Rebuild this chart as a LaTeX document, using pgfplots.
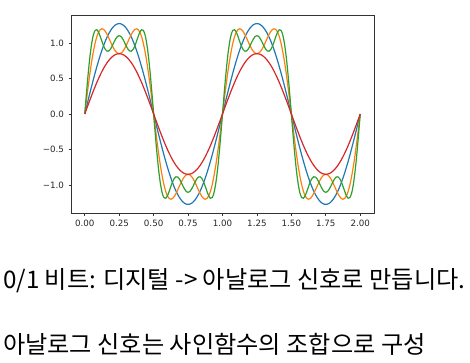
\documentclass[border=0pt]{standalone}
\usepackage{pgfplots}
\usepackage{pgfplotstable}
\pgfplotsset{compat=1.18}
\usepackage{fontspec}
\setmainfont{DejaVu Sans}
\newfontfamily\cjk{Noto Sans CJK KR}
\definecolor{mplblue}{HTML}{1F77B4}
\definecolor{mplorange}{HTML}{FF7F0E}
\definecolor{mplgreen}{HTML}{2CA02C}
\definecolor{mplred}{HTML}{D62728}
\pgfplotstableread{
x B O G R
0 0 0 0 0
0.0125 0.100 0.199 0.296 0.067
0.025 0.199 0.392 0.572 0.133
0.0375 0.297 0.573 0.808 0.198
0.05 0.393 0.737 0.991 0.262
0.0625 0.487 0.879 1.115 0.325
0.075 0.578 0.997 1.177 0.385
0.0875 0.665 1.088 1.186 0.444
0.1 0.748 1.152 1.152 0.499
0.1125 0.827 1.189 1.091 0.551
0.125 0.900 1.200 1.020 0.600
0.1375 0.968 1.190 0.955 0.646
0.15 1.030 1.161 0.907 0.687
0.1625 1.086 1.119 0.884 0.724
0.175 1.134 1.068 0.888 0.756
0.1875 1.176 1.014 0.916 0.784
0.2 1.211 0.961 0.961 0.807
0.2125 1.238 0.915 1.013 0.826
0.225 1.258 0.879 1.059 0.839
0.2375 1.269 0.857 1.092 0.846
0.25 1.273 0.849 1.103 0.849
0.2625 1.269 0.857 1.092 0.846
0.275 1.258 0.879 1.059 0.839
0.2875 1.238 0.915 1.013 0.826
0.3 1.211 0.961 0.961 0.807
0.3125 1.176 1.014 0.916 0.784
0.325 1.134 1.068 0.888 0.756
0.3375 1.086 1.119 0.884 0.724
0.35 1.030 1.161 0.907 0.687
0.3625 0.968 1.190 0.955 0.646
0.375 0.900 1.200 1.020 0.600
0.3875 0.827 1.189 1.091 0.551
0.4 0.748 1.152 1.152 0.499
0.4125 0.665 1.088 1.186 0.444
0.425 0.578 0.997 1.177 0.385
0.4375 0.487 0.879 1.115 0.325
0.45 0.393 0.737 0.991 0.262
0.4625 0.297 0.573 0.808 0.198
0.475 0.199 0.392 0.572 0.133
0.4875 0.100 0.199 0.296 0.067
0.5 0 0 0 0
0.5125 -0.100 -0.199 -0.296 -0.067
0.525 -0.199 -0.392 -0.572 -0.133
0.5375 -0.297 -0.573 -0.808 -0.198
0.55 -0.393 -0.737 -0.991 -0.262
0.5625 -0.487 -0.879 -1.115 -0.325
0.575 -0.578 -0.997 -1.177 -0.385
0.5875 -0.665 -1.088 -1.186 -0.444
0.6 -0.748 -1.152 -1.152 -0.499
0.6125 -0.827 -1.189 -1.091 -0.551
0.625 -0.900 -1.200 -1.020 -0.600
0.6375 -0.968 -1.190 -0.955 -0.646
0.65 -1.030 -1.161 -0.907 -0.687
0.6625 -1.086 -1.119 -0.884 -0.724
0.675 -1.134 -1.068 -0.888 -0.756
0.6875 -1.176 -1.014 -0.916 -0.784
0.7 -1.211 -0.961 -0.961 -0.807
0.7125 -1.238 -0.915 -1.013 -0.826
0.725 -1.258 -0.879 -1.059 -0.839
0.7375 -1.269 -0.857 -1.092 -0.846
0.75 -1.273 -0.849 -1.103 -0.849
0.7625 -1.269 -0.857 -1.092 -0.846
0.775 -1.258 -0.879 -1.059 -0.839
0.7875 -1.238 -0.915 -1.013 -0.826
0.8 -1.211 -0.961 -0.961 -0.807
0.8125 -1.176 -1.014 -0.916 -0.784
0.825 -1.134 -1.068 -0.888 -0.756
0.8375 -1.086 -1.119 -0.884 -0.724
0.85 -1.030 -1.161 -0.907 -0.687
0.8625 -0.968 -1.190 -0.955 -0.646
0.875 -0.900 -1.200 -1.020 -0.600
0.8875 -0.827 -1.189 -1.091 -0.551
0.9 -0.748 -1.152 -1.152 -0.499
0.9125 -0.665 -1.088 -1.186 -0.444
0.925 -0.578 -0.997 -1.177 -0.385
0.9375 -0.487 -0.879 -1.115 -0.325
0.95 -0.393 -0.737 -0.991 -0.262
0.9625 -0.297 -0.573 -0.808 -0.198
0.975 -0.199 -0.392 -0.572 -0.133
0.9875 -0.100 -0.199 -0.296 -0.067
1.0 0 0 0 0
1.0125 0.100 0.199 0.296 0.067
1.025 0.199 0.392 0.572 0.133
1.0375 0.297 0.573 0.808 0.198
1.05 0.393 0.737 0.991 0.262
1.0625 0.487 0.879 1.115 0.325
1.075 0.578 0.997 1.177 0.385
1.0875 0.665 1.088 1.186 0.444
1.1 0.748 1.152 1.152 0.499
1.1125 0.827 1.189 1.091 0.551
1.125 0.900 1.200 1.020 0.600
1.1375 0.968 1.190 0.955 0.646
1.15 1.030 1.161 0.907 0.687
1.1625 1.086 1.119 0.884 0.724
1.175 1.134 1.068 0.888 0.756
1.1875 1.176 1.014 0.916 0.784
1.2 1.211 0.961 0.961 0.807
1.2125 1.238 0.915 1.013 0.826
1.225 1.258 0.879 1.059 0.839
1.2375 1.269 0.857 1.092 0.846
1.25 1.273 0.849 1.103 0.849
1.2625 1.269 0.857 1.092 0.846
1.275 1.258 0.879 1.059 0.839
1.2875 1.238 0.915 1.013 0.826
1.3 1.211 0.961 0.961 0.807
1.3125 1.176 1.014 0.916 0.784
1.325 1.134 1.068 0.888 0.756
1.3375 1.086 1.119 0.884 0.724
1.35 1.030 1.161 0.907 0.687
1.3625 0.968 1.190 0.955 0.646
1.375 0.900 1.200 1.020 0.600
1.3875 0.827 1.189 1.091 0.551
1.4 0.748 1.152 1.152 0.499
1.4125 0.665 1.088 1.186 0.444
1.425 0.578 0.997 1.177 0.385
1.4375 0.487 0.879 1.115 0.325
1.45 0.393 0.737 0.991 0.262
1.4625 0.297 0.573 0.808 0.198
1.475 0.199 0.392 0.572 0.133
1.4875 0.100 0.199 0.296 0.067
1.5 0 0 0 0
1.5125 -0.100 -0.199 -0.296 -0.067
1.525 -0.199 -0.392 -0.572 -0.133
1.5375 -0.297 -0.573 -0.808 -0.198
1.55 -0.393 -0.737 -0.991 -0.262
1.5625 -0.487 -0.879 -1.115 -0.325
1.575 -0.578 -0.997 -1.177 -0.385
1.5875 -0.665 -1.088 -1.186 -0.444
1.6 -0.748 -1.152 -1.152 -0.499
1.6125 -0.827 -1.189 -1.091 -0.551
1.625 -0.900 -1.200 -1.020 -0.600
1.6375 -0.968 -1.190 -0.955 -0.646
1.65 -1.030 -1.161 -0.907 -0.687
1.6625 -1.086 -1.119 -0.884 -0.724
1.675 -1.134 -1.068 -0.888 -0.756
1.6875 -1.176 -1.014 -0.916 -0.784
1.7 -1.211 -0.961 -0.961 -0.807
1.7125 -1.238 -0.915 -1.013 -0.826
1.725 -1.258 -0.879 -1.059 -0.839
1.7375 -1.269 -0.857 -1.092 -0.846
1.75 -1.273 -0.849 -1.103 -0.849
1.7625 -1.269 -0.857 -1.092 -0.846
1.775 -1.258 -0.879 -1.059 -0.839
1.7875 -1.238 -0.915 -1.013 -0.826
1.8 -1.211 -0.961 -0.961 -0.807
1.8125 -1.176 -1.014 -0.916 -0.784
1.825 -1.134 -1.068 -0.888 -0.756
1.8375 -1.086 -1.119 -0.884 -0.724
1.85 -1.030 -1.161 -0.907 -0.687
1.8625 -0.968 -1.190 -0.955 -0.646
1.875 -0.900 -1.200 -1.020 -0.600
1.8875 -0.827 -1.189 -1.091 -0.551
1.9 -0.748 -1.152 -1.152 -0.499
1.9125 -0.665 -1.088 -1.186 -0.444
1.925 -0.578 -0.997 -1.177 -0.385
1.9375 -0.487 -0.879 -1.115 -0.325
1.95 -0.393 -0.737 -0.991 -0.262
1.9625 -0.297 -0.573 -0.808 -0.198
1.975 -0.199 -0.392 -0.572 -0.133
1.9875 -0.100 -0.199 -0.296 -0.067
2.0 0 0 0 0
}\waves
\begin{document}
\begin{tikzpicture}
\path[use as bounding box] (0,0) rectangle (470pt,-363pt);
\begin{axis}[
  at={(71pt,-213pt)}, anchor=south west,
  scale only axis, width=303pt, height=198pt,
  xmin=-0.1, xmax=2.1, ymin=-1.394, ymax=1.394,
  xtick={0,0.25,0.5,0.75,1,1.25,1.5,1.75,2},
  xticklabels={0.00,0.25,0.50,0.75,1.00,1.25,1.50,1.75,2.00},
  ytick={-1,-0.5,0,0.5,1},
  yticklabels={−1.0,−0.5,0.0,0.5,1.0},
  tick align=outside, tick pos=left,
  major tick length=2.5pt,
  tick style={black!80, line width=0.6pt},
  axis line style={black!80, line width=0.7pt},
  ticklabel style={font=\fontsize{8.7pt}{10pt}\selectfont, text=black!85},
  xticklabel style={yshift=-1pt},
  yticklabel style={xshift=-1pt},
  every axis plot/.append style={line width=1.2pt, smooth},
]
\addplot[mplblue] table[x=x,y=B] {\waves};
\addplot[mplorange] table[x=x,y=O] {\waves};
\addplot[mplgreen] table[x=x,y=G] {\waves};
\addplot[mplred] table[x=x,y=R] {\waves};
\end{axis}
\node[anchor=west, inner sep=0pt, font=\cjk\fontsize{24.2pt}{28pt}\selectfont] at (3pt,-281pt) {0/1 비트: 디지털 -> 아날로그 신호로 만듭니다.};
\node[anchor=west, inner sep=0pt, font=\cjk\fontsize{24.2pt}{28pt}\selectfont] at (3pt,-344pt) {아날로그 신호는 사인함수의 조합으로 구성};
\end{tikzpicture}
\end{document}
